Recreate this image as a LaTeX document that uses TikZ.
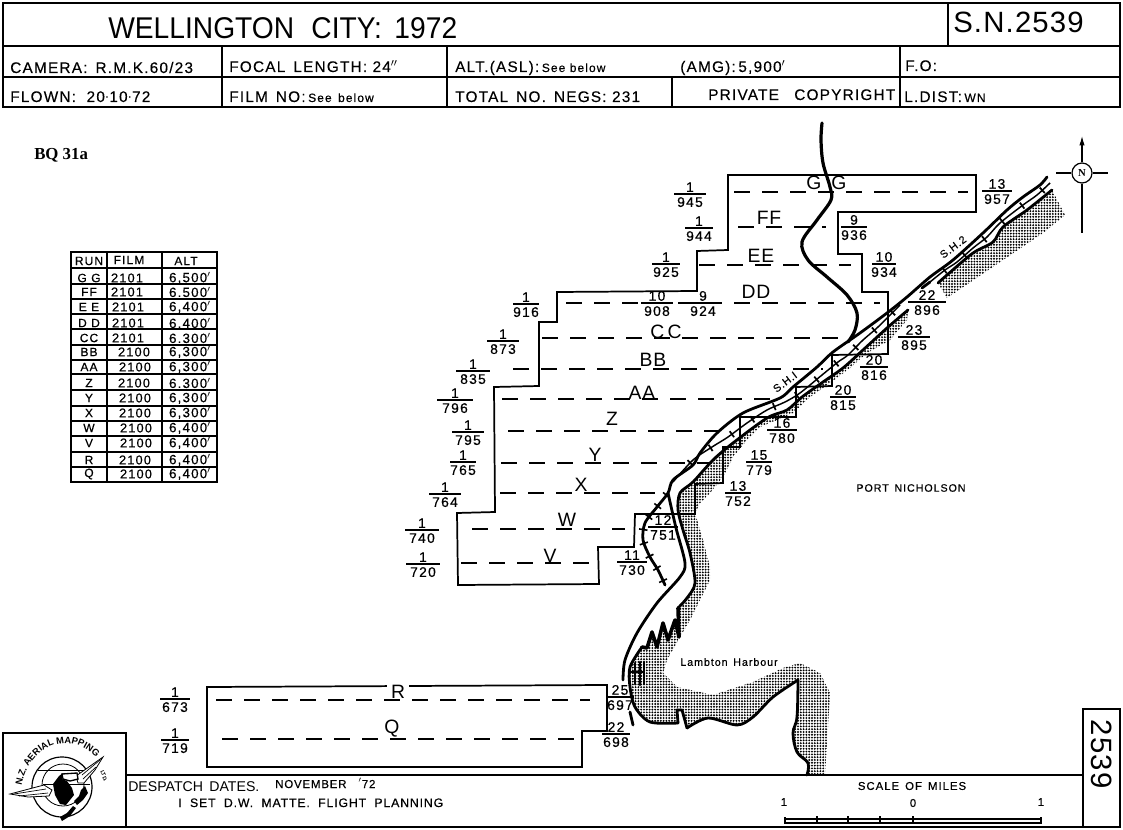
\documentclass[tikz,border=0pt]{standalone}
\usepackage{fontspec}
\usepackage{graphicx}
\setmainfont{Liberation Sans}
\newfontfamily\serifb{Liberation Serif}
\newfontfamily\ls[LetterSpace=9,FakeBold=0.5]{Liberation Sans}
\newfontfamily\lsw[LetterSpace=4]{Liberation Sans}
\newfontfamily\lswb[LetterSpace=7,FakeBold=0.4]{Liberation Sans}
\newfontfamily\hdf[LetterSpace=8,FakeBold=0.2]{Liberation Sans}
\usetikzlibrary{patterns.meta,decorations.text,decorations.markings,arrows.meta,calc}
\newcommand\fsz[1]{\fontsize{#1}{#1}\selectfont}
\tikzset{
 frameln/.style={line width=1.9pt,black},
 thinfr/.style={line width=1.1pt,black},
 flight/.style={line width=1.3pt,black,line join=miter},
 runln/.style={line width=1.2pt,black,dash pattern=on 12pt off 9pt},
 roadln/.style={line width=2.1pt,black,line cap=round,line join=round},
 trackln/.style={line width=1.1pt,black},
 ticked/.style={postaction={decorate,decoration={markings,mark=between positions 8pt and -4pt step 19pt with {\draw[line width=1.3pt,black] (0,-2.8pt)--(0,2.8pt);}}}},
 stip/.style={pattern={Dots[radius=0.8pt,distance=2.1pt]},pattern color=black},
 fracrule/.style={line width=1pt,black},
 ftop/.style={font=\ls\fsz{10.4},inner sep=0pt,anchor=south,yshift=1.4pt},
 fbot/.style={font=\ls\fsz{10.4},inner sep=0pt,anchor=north,yshift=-2.2pt},
 runlab/.style={font=\lsw\fsz{14.5},inner sep=0pt},
 hd/.style={font=\hdf\fsz{11.5},inner sep=0pt,anchor=base west},
 hdb/.style={font=\lswb\fsz{8.6},inner sep=0pt,anchor=base west},
 tbl/.style={font=\ls\fsz{9},inner sep=0pt},
}
\newcommand\fr[6]{\coordinate (#1) at (#2,#3);
 \draw[fracrule] ($(#1)+(-#4/2,0)$) -- ($(#1)+(#4/2,0)$);
 \node[ftop] (#1t) at (#1) {#5}; \node[fbot] (#1b) at (#1) {#6};}
\begin{document}
\begin{tikzpicture}[x=0.75pt,y=-0.75pt]
\useasboundingbox (0,0) rectangle (1123,830);
\fill[white] (0,0) rectangle (1123,830);

% stipple
\path[stip] (1052,190)--(1065,215)--(1043,233)--(947,298)--(938,283)--(973,253)--(993,242)--(1003,227)--(1027,210)--cycle;
\path[stip] (908,310)--(907,320)--(890,340)--(867,353)--(850,368)--(830,383)--(810,397)--(793,413)--(760,427)--(747,440)--(733,457)--(723,477)--(710,493)--(700,503)--(695,513)--(703,540)--(710,567)--(710,580)--(700,600)--(690,620)--(680,637)--(667,660)--(663,673)--(677,687)--(713,695)--(753,682)--(783,668)--(800,663)--(820,673)--(830,693)--(828,727)--(825,775)--(807,775)--(808,763)--(797,752)--(793,733)--(797,717)--(798,680)--(773,697)--(753,717)--(737,725)--(708,718)--(687,728)--(682,710)--(677,710)--(678,723)--(650,722)--(635,707)--(630,687)--(630,667)--(642,647)--(647,648)--(652,632)--(657,647)--(663,623)--(668,640)--(675,620)--(679,637)--(678,608)--(687,598)--(695,583)--(690,553)--(683,530)--(678,510)--(680,493)--(693,482)--(713,460)--(733,443)--(767,418)--(787,410)--(802,397)--(823,382)--(843,368)--(863,350)--(887,328)--cycle;

% title block
\draw[frameln] (3,3) rectangle (1120,107);
\draw[frameln] (3,46)--(1120,46);
\draw[thinfr] (3,77)--(1120,77);
\draw[thinfr] (222,46)--(222,107) (447,46)--(447,107) (672,77)--(672,107);
\draw[frameln] (900,46)--(900,107) (948,3)--(948,46);
\node[inner sep=0pt,anchor=base west,font=\fsz{22.5}] (ttl) at (108,39) {\scalebox{0.94}[1]{WELLINGTON\,\, CITY:\, 1972}};
\node[inner sep=0pt,anchor=base west,font=\lsw\fsz{22}] (sn) at (953,33) {S.N.2539};
\node[hd] (h1) at (10,73) {CAMERA:\, R.M.K.60/23};
\node[hd] (h2) at (229,72) {FOCAL\, LENGTH: 24$^{\prime\prime}$};
\node[hd] (h3) at (455,72) {ALT.(ASL):\,{\ls\fsz{9}See below}};
\node[hd] (h4) at (680,72) {(AMG):\,5,900$^{\prime}$};
\node[hd] (h5) at (905,71) {F.O:};
\node[hd] (h6) at (10,102) {FLOWN:\,\, 20$\cdot$10$\cdot$72};
\node[hd] (h7) at (229,102) {FILM\, NO:\,{\ls\fsz{9}See\, below}};
\node[hd] (h8) at (455,102) {TOTAL\, NO.\, NEGS: 231};
\node[hd] (h9) at (708,100) {PRIVATE\quad COPYRIGHT};
\node[hd] (h10) at (904,102) {L.DIST:\,{\ls\fsz{9}WN}};

\node[inner sep=0pt,anchor=base west,font=\serifb\bfseries\fsz{12.6}] (bq) at (34,160) {BQ 31a};

% table
\draw[thinfr] (71,252) rectangle (217,482);
\draw[thinfr] (107,252)--(107,482) (162,252)--(162,482);
\foreach \yy in {268,284,299,314,329,345,360,374,390,406,421,436,452,467} \draw[thinfr] (71,\yy)--(217,\yy);
\node[tbl] (th1) at (89,261) {RUN};
\node[tbl] (th2) at (129,260) {FILM};
\node[tbl] (th3) at (186,261) {ALT};
\foreach \n/\r/\f/\a/\yy/\fx in {1/G G/2101/{6,500}/278/127,2/FF/2101/{6.500}/292/127,3/E E/2101/{6,400}/307/128,4/D D/2101/{6.400}/323/128,5/CC/2101/{6.300}/338/128,6/BB/2100/{6,300}/352/134,7/AA/2100/{6,300}/367/135,8/Z/2100/{6.300}/383/134,9/Y/2100/{6,300}/398/135,10/X/2100/{6,300}/413/135,11/W/2100/{6,400}/428/136,12/V/2100/{6,400}/443/136,13/R/2100/{6,400}/460/135,14/Q/2100/{6,400}/474/136}{
 \node[tbl] (tr\n) at (89,\yy) {\r};
 \node[tbl,font=\ls\fsz{9.6}] (tf\n) at (\fx,\yy) {\f};
 \node[tbl,font=\ls\fsz{10}] (ta\n) at (190,\yy) {\a$^{\prime}$};
}

% compass
\node[circle,draw,line width=0.9pt,minimum size=15pt,inner sep=0pt,font=\serifb\bfseries\fsz{8}] (north) at (1082,173) {N};
\coordinate (cT) at (1082,136); \coordinate (cB) at (1082,233); \coordinate (cL) at (1056,173); \coordinate (cR) at (1108,173);
\draw[line width=0.8pt,-{Latex[length=7pt,width=4pt]}] (north) -- (cT);
\draw[line width=0.8pt] (north)--(cB) (north)--(cL) (north)--(cR);

% flight areas
\draw[flight] (728,175)--(976,175)--(976,212)--(838,212)--(838,254)--(862,254)--(862,292)--(888,292)--(888,354)--(832,355)--(832,386)--(796,387)--(796,417)--(740,417)--(740,447)--(723,447)--(723,483)--(695,484)--(695,514)--(635,514)--(634,547)--(598,547)--(599,584)--(458,585)--(457,513)--(495,512)--(494,387)--(539,386)--(539,322)--(557,322)--(557,292)--(697,291)--(697,251)--(728,250)--cycle;
\draw[flight] (207,687)--(607,685)--(607,731)--(582,731)--(582,767)--(207,767)--cycle;
\foreach \n/\xa/\xb/\yy in {gg/734/968/192,ff/738/826/227,ee/699/851/265,dd/566/880/303,cc/542/845/338,bb/513/823/369,aa/502/777/399,z/508/720/431,y/501/712/463,x/500/655/493,w/472/625/529,v/461/596/563,r/216/590/700,q/222/580/739}{
 \coordinate (\n A) at (\xa,\yy); \coordinate (\n B) at (\xb,\yy);
 \draw[runln] (\n A)--(\n B);
}
\foreach \n/\t/\xx/\yy in {g1/G/814/183,g2/G/839/183,ff/FF/769/218,ee/EE/761/256,dd/DD/756/292,cc/C\,C/666/332,bb/BB/653/360,aa/AA/642/393,z/Z/612/419,y/Y/595/455,x/X/581/485,w/W/567/520,v/V/550/556,q/Q/392/729}{
 \node[runlab] (lab\n) at (\xx,\yy) {\t};
}
\node[runlab,fill=white,inner xsep=3pt,inner ysep=0pt] (labr) at (398,692) {R};

% roads
\draw[roadln] plot[smooth,tension=0.5] coordinates {(1047,177)(1040,185)(1023,197)(1007,210)(983,233)(953,260)(930,277)(907,297)(887,313)(860,333)(833,352)(817,367)(793,387)(780,398)(743,413)(717,433)(700,453)(693,465)(673,480)(668,493)(657,507)(645,523)(643,540)(650,557)(658,570)(665,585)};
\draw[trackln,ticked] plot[smooth,tension=0.5] coordinates {(1050,183)(1037,195)(1023,205)(1000,223)(987,237)(973,248)(957,262)(945,270)(930,282)};
\draw[trackln,ticked] plot[smooth,tension=0.5] coordinates {(900,305)(878,327)(863,340)(848,355)(838,362)(822,375)(800,393)(785,402)(767,410)(747,423)(728,437)(712,447)(693,460)(673,482)};
\path[decorate,decoration={markings,mark=between positions 2pt and -2pt step 10.5pt with {\draw[line width=1.2pt,black] (0,-3.2pt)--(0,3.2pt);}}] plot[smooth,tension=0.5] coordinates {(668,493)(657,507)(645,523)(643,540)(650,557)(658,570)(665,585)};
\draw[roadln] plot[smooth,tension=0.5] coordinates {(1052,190)(1027,210)(1003,227)(993,242)(973,253)(947,275)(938,283)};
\draw[roadln] (930,282)--(922,288);
\draw[roadln] plot[smooth,tension=0.5] coordinates {(908,310)(887,328)(863,350)(843,368)(823,382)(802,397)(787,410)(767,418)(733,443)(713,460)(693,482)(680,493)(678,510)(683,530)(690,553)(695,583)(687,598)(678,608)};
\draw[roadln,line width=2.7pt] (678,608)--(679,637)--(675,620)--(668,640)--(663,623)--(657,647)--(652,632)--(647,648)--(642,647);
\draw[roadln] plot[smooth,tension=0.5] coordinates {(642,647)(630,667)(630,687)(635,707)(650,722)(678,723)};
\draw[roadln] (678,723)--(677,710)--(682,710)--(687,728);
\draw[roadln] plot[smooth,tension=0.5] coordinates {(687,728)(708,718)(737,725)(753,717)(773,697)(798,680)};
\draw[roadln] plot[smooth,tension=0.6] coordinates {(798,680)(797,717)(793,733)(797,752)(808,763)(807,775)};
\draw[roadln] plot[smooth,tension=0.5] coordinates {(668,493)(676,528)(685,563)(680,577)(657,603)(637,633)(625,660)(623,680)};
\draw[roadln] (630,712)--(633,725);
\draw[roadln] (635,663)--(635,684) (640,662)--(640,685) (644,662)--(644,684);
\draw[line width=1pt] (630,672)--(643,672);
% stream
\draw[line width=2.4pt,line cap=round] plot[smooth,tension=0.55] coordinates {(822,123)(821,140)(823,163)(830,187)(831,200)(817,220)(802,242)(808,260)(827,277)(847,295)(857,313)(855,330)(848,342)};

% fractions
\fr{a1}{690}{194}{32}{1}{945}
\fr{a2}{699}{228}{28}{1}{944}
\fr{a3}{666}{264}{28}{1}{925}
\fr{a4}{526}{304}{26}{1}{916}
\fr{a5}{657}{303}{32}{10}{908}
\fr{a6}{703}{303}{28}{9}{924}
\fr{a7}{503}{341}{32}{1}{873}
\fr{a8}{473}{371}{34}{1}{835}
\fr{a9}{455}{400}{36}{1}{796}
\fr{a10}{468}{432}{32}{1}{795}
\fr{a11}{463}{462}{26}{1}{765}
\fr{a12}{445}{494}{32}{1}{764}
\fr{a13}{422}{530}{34}{1}{740}
\fr{a14}{423}{564}{34}{1}{720}
\fr{a15}{632}{562}{30}{11}{730}
\fr{a16}{663}{527}{30}{12}{751}
\fr{a17}{738}{493}{26}{13}{752}
\fr{a18}{759}{462}{26}{15}{779}
\fr{a19}{782}{430}{30}{16}{780}
\fr{a20}{843}{397}{26}{20}{815}
\fr{a21}{874}{367}{28}{20}{816}
\fr{a22}{914}{337}{32}{23}{895}
\fr{a23}{927}{302}{38}{22}{896}
\fr{a24}{884}{264}{24}{10}{934}
\fr{a25}{854}{227}{26}{9}{936}
\fr{a26}{997}{191}{30}{13}{957}
\fr{a27}{175}{699}{30}{1}{673}
\fr{a28}{175}{740}{28}{1}{719}
\fr{a29}{620}{697}{28}{25}{697}
\fr{a30}{616}{734}{28}{22}{698}

\node[rotate=37,inner sep=0pt,font=\lswb\fsz{8}] (sh1) at (785,382) {S.H.I};
\node[rotate=37,inner sep=0pt,font=\lswb\fsz{8}] (sh2) at (953,247) {S.H.2};
\node[inner sep=0pt,font=\ls\fsz{8}] (port) at (911,488) {PORT\, NICHOLSON};
\node[inner sep=0pt,font=\ls\fsz{8}] (lamb) at (729,662) {Lambton\, Harbour};

% bottom block
\draw[frameln] (3,733) rectangle (126,827);
\draw[frameln] (126,775)--(1083,775);
\draw[frameln] (126,827)--(1083,827);
\draw[frameln] (1083,709) rectangle (1120,827);
\node[rotate=-90,inner sep=0pt,font=\lsw\fsz{22}] (no) at (1102,754) {2539};
\node[inner sep=0pt,anchor=base west,font=\fsz{10.6}] (d1) at (128,791) {DESPATCH\, DATES.};
\node[hdb] (d2) at (275,788) {NOVEMBER};
\node[hdb] (d2b) at (358,788) {$^{\prime}$72};
\node[hdb,font=\lswb\fsz{9.2}] (d3) at (178,807) {I\,\, SET\,\, D.W.\,\, MATTE.\,\, FLIGHT\,\, PLANNING};
\node[inner sep=0pt,font=\ls\fsz{8.5}] (som) at (912,786) {SCALE\, OF\, MILES};
\node[inner sep=0pt,font=\ls\fsz{8.5}] (s1) at (784,802) {1};
\node[inner sep=0pt,font=\ls\fsz{8.5}] (s2) at (913,803) {0};
\node[inner sep=0pt,font=\ls\fsz{8.5}] (s3) at (1041,802) {1};
\draw[line width=0.9pt] (785,817)--(785,823)--(1041,823)--(1041,817) (785,819)--(1041,819);
\foreach \xx in {817,848,880,913} \draw[line width=0.9pt] (\xx,816)--(\xx,823);

% logo
\draw[line width=0.9pt] (62,787) circle (30);
\draw[line width=0.6pt] (63,785) circle (21);
\draw[line width=0.6pt] (38,770)--(85,770) (43,784)--(90,784);
\fill[white,draw=black,line width=0.6pt] (10,794)--(44,785)--(52,790)--(49,796)--(28,797)--cycle;
\fill[white,draw=black,line width=0.6pt] (76,776)--(103,757)--(95,770)--(84,783)--(78,783)--cycle;
\draw[line width=0.5pt] (14,794)--(46,789) (19,796)--(48,793) (82,775)--(100,760) (83,779)--(96,767);
\fill[black] (53,784)--(59,776)--(63,773)--(62,779)--(67,781)--(72,788)--(74,795)--(66,805)--(60,804)--(55,795)--cycle;
\draw[line width=1pt,fill=white] (62,774)--(77,773)--(78,779)--(70,781)--(63,779)--cycle;
\fill[black] (85,786)--(88,793)--(83,800)--(77,805)--(74,801)--(79,796)--(81,790)--cycle;
\fill[black] (73,806)--(76,808)--(70,816)--(62,821)--(60,817)--(67,813)--cycle;
\path[decorate,decoration={text along path,text align=center,text={|\bfseries\fsz{7}|N.Z. AERIAL MAPPING}}] (21,792) .. controls (25,745) and (72,726) .. (100,762);
\node[rotate=-70,inner sep=0pt,font=\bfseries\fsz{4}] (ltd) at (104,776) {LTD.};
\end{tikzpicture}
\end{document}
